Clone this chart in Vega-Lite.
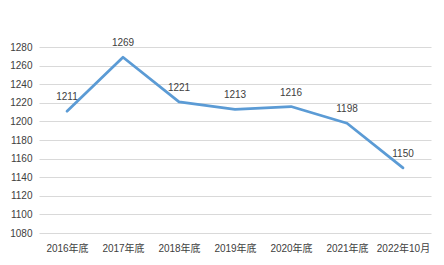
{
  "$schema": "https://vega.github.io/schema/vega-lite/v6.json",
  "width": 392,
  "height": 186,
  "autosize": {"type": "none"},
  "padding": {"left": 39, "top": 47, "right": 13, "bottom": 32},
  "background": "white",
  "config": {
    "view": {"stroke": null},
    "font": "Liberation Sans, Noto Sans CJK SC",
    "axis": {"labelFont": "Liberation Sans, Noto Sans CJK SC", "labelFontSize": 10, "labelColor": "#404040", "ticks": false, "domain": false, "title": null}
  },
  "data": {"values": [
    {"period": "2016年底", "value": 1211},
    {"period": "2017年底", "value": 1269},
    {"period": "2018年底", "value": 1221},
    {"period": "2019年底", "value": 1213},
    {"period": "2020年底", "value": 1216},
    {"period": "2021年底", "value": 1198},
    {"period": "2022年10月", "value": 1150}
  ]},
  "encoding": {
    "x": {"field": "period", "type": "ordinal", "sort": null, "scale": {"type": "point", "padding": 0.5},
      "axis": {"labelAngle": 0, "labelPadding": 10, "grid": false}},
    "y": {"field": "value", "type": "quantitative", "scale": {"domain": [1080, 1280], "zero": false, "nice": false},
      "axis": {"values": [1080,1100,1120,1140,1160,1180,1200,1220,1240,1260,1280], "format": "d", "labelPadding": 7, "grid": true, "gridColor": "#d9d9d9", "gridWidth": 1}}
  },
  "layer": [
    {"mark": {"type": "line", "color": "#5b9bd5", "strokeWidth": 2.75, "strokeCap": "round", "strokeJoin": "round"}},
    {"mark": {"type": "text", "dy": -14, "baseline": "middle", "fontSize": 10, "color": "#404040", "font": "Liberation Sans"},
      "encoding": {"text": {"field": "value", "type": "quantitative", "format": "d"}}}
  ]
}
